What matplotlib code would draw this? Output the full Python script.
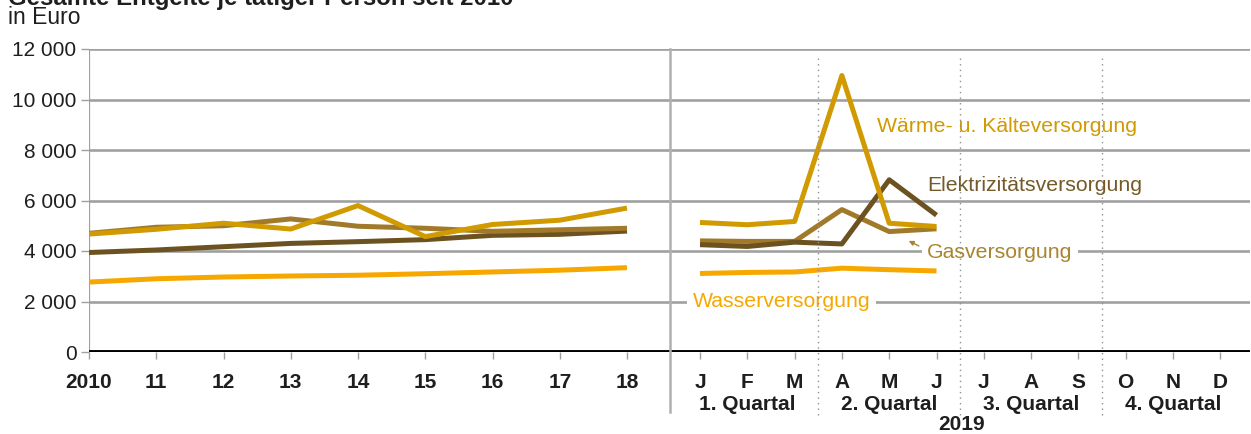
import matplotlib
matplotlib.use("Agg")
import matplotlib.pyplot as plt

plt.rcParams['font.family'] = ['Liberation Sans', 'DejaVu Sans']

# ---- data ----
years = ["2010", "11", "12", "13", "14", "15", "16", "17", "18"]
months = ["J", "F", "M", "A", "M", "J", "J", "A", "S", "O", "N", "D"]
quarters = ["1. Quartal", "2. Quartal", "3. Quartal", "4. Quartal"]

waerme_y = [4670, 4860, 5100, 4870, 5800, 4570, 5050, 5220, 5700]
gas_y = [4700, 4940, 5000, 5270, 4980, 4900, 4780, 4840, 4900]
elek_y = [3940, 4040, 4170, 4300, 4370, 4450, 4620, 4660, 4790]
wasser_y = [2770, 2900, 2970, 3010, 3040, 3100, 3170, 3240, 3340]

waerme_m = [5130, 5040, 5170, 10950, 5100, 4970]
gas_m = [4400, 4380, 4380, 5640, 4770, 4880]
elek_m = [4250, 4180, 4350, 4280, 6820, 5420]
wasser_m = [3110, 3150, 3170, 3320, 3260, 3210]

yticks = [0, 2000, 4000, 6000, 8000, 10000, 12000]

c_waerme = "#D09A00"
c_gas = "#A07A2A"
c_elek = "#6B5220"
c_wasser = "#F6A800"
c_grid = "#A0A0A0"
c_text = "#1E1E1E"

W, H = 1251, 434
fig = plt.figure(figsize=(W / 100, H / 100), dpi=100)

def fx(px):
    return px / W

def fy(py):
    return 1 - py / H

left_px, split_px, right_px = 89, 670, 1250
top_px, bot_px = 49, 352

axL = fig.add_axes([fx(left_px), fy(bot_px), fx(split_px - left_px), fy(top_px) - fy(bot_px)])
axR = fig.add_axes([fx(split_px), fy(bot_px), fx(right_px - split_px), fy(top_px) - fy(bot_px)])

lw = 3.6
fs_tick = 15
fs_lab = 15.3
xL = list(range(len(years)))
xR = list(range(len(months)))

for ax in (axL, axR):
    ax.set_ylim(0, 12000)
    for s in ax.spines.values():
        s.set_visible(False)
    for v in yticks[1:]:
        ax.axhline(v, color=c_grid, lw=1.9, zorder=1)
    ax.axhline(0, color="black", lw=2.8, zorder=5)
    ax.tick_params(axis='x', length=5, width=1, color=c_grid, pad=10,
                   labelsize=fs_tick, labelcolor=c_text)

# left panel
axL.set_xlim(0, (split_px - left_px) / 67.25)
axL.plot(xL, wasser_y, color=c_wasser, lw=lw, zorder=3, solid_capstyle='butt')
axL.plot(xL, elek_y, color=c_elek, lw=lw, zorder=3, solid_capstyle='butt')
axL.plot(xL, gas_y, color=c_gas, lw=lw, zorder=3, solid_capstyle='butt')
axL.plot(xL, waerme_y, color=c_waerme, lw=lw, zorder=4, solid_capstyle='butt')
axL.set_xticks(xL)
axL.set_xticklabels(years, fontweight='bold')
axL.set_yticks(yticks)
axL.set_yticklabels([f"{v:,}".replace(",", " ") for v in yticks], fontsize=fs_tick, color=c_text)
axL.tick_params(axis='y', length=6, width=1, color=c_grid, pad=3)
axL.axvline(0, color=c_grid, lw=1.6, zorder=2)

# right panel
mstep = 47.3
axR.set_xlim((split_px - 700) / mstep, (right_px - 700) / mstep)
xm = xR[:len(waerme_m)]
axR.plot(xm, wasser_m, color=c_wasser, lw=lw, zorder=3, solid_capstyle='butt')
axR.plot(xm, gas_m, color=c_gas, lw=lw, zorder=3, solid_capstyle='butt')
axR.plot(xm, elek_m, color=c_elek, lw=lw, zorder=3, solid_capstyle='butt')
axR.plot(xm, waerme_m, color=c_waerme, lw=lw, zorder=4, solid_capstyle='butt')
axR.set_xticks(xR)
axR.set_xticklabels(months, fontweight='bold')
axR.set_yticks([])

# separator and quarter dividers (extend below axes)
fig.add_artist(plt.Line2D([fx(split_px), fx(split_px)], [fy(412), fy(top_px)],
                          transform=fig.transFigure, color="#B0B0B0", lw=1.8, zorder=2))
for q in (2.5, 5.5, 8.5):
    xp = 700 + q * mstep
    fig.add_artist(plt.Line2D([fx(xp), fx(xp)], [fy(415), fy(top_px + 8)], transform=fig.transFigure,
                              color="#909090", lw=1.0, ls=(0, (1, 3)), zorder=2))

# quarter labels
for i, q in enumerate(quarters):
    xc = 700 + (3 * i + 1) * mstep
    fig.text(fx(xc), fy(404), q, ha='center', va='center', fontsize=fs_tick,
             fontweight='bold', color=c_text)
fig.text(fx(962), fy(424), "2019", ha='center', va='center', fontsize=fs_tick,
         fontweight='bold', color=c_text)

# series labels
axR.text(3.74, 8950, "Wärme- u. Kälteversorgung", color=c_waerme, fontsize=fs_lab,
         ha='left', va='center', zorder=6)
axR.text(4.80, 6600, "Elektrizitätsversorgung", color="#735A28", fontsize=fs_lab,
         ha='left', va='center', zorder=6)
axR.text(4.80, 3930, "Gasversorgung", color="#A8852E", fontsize=fs_lab,
         ha='left', va='center', zorder=6, bbox=dict(facecolor='white', edgecolor='none', pad=4))
axR.annotate("", xy=(4.36, 4450), xytext=(4.68, 4150),
             arrowprops=dict(arrowstyle='-|>', color="#A8852E", lw=1.0, mutation_scale=7),
             zorder=6)
axR.text(-0.15, 2000, "Wasserversorgung", color=c_wasser, fontsize=fs_lab,
         ha='left', va='center', zorder=6, bbox=dict(facecolor='white', edgecolor='none', pad=4))

# titles
fig.text(fx(8), fy(4.5), "Gesamte Entgelte je tätiger Person seit 2010", ha='left', va='baseline',
         fontsize=17.3, fontweight='bold', color=c_text)
fig.text(fx(8), fy(18), "in Euro", ha='left', va='center', fontsize=16.5, color=c_text)

fig.savefig("out.png", dpi=100)
